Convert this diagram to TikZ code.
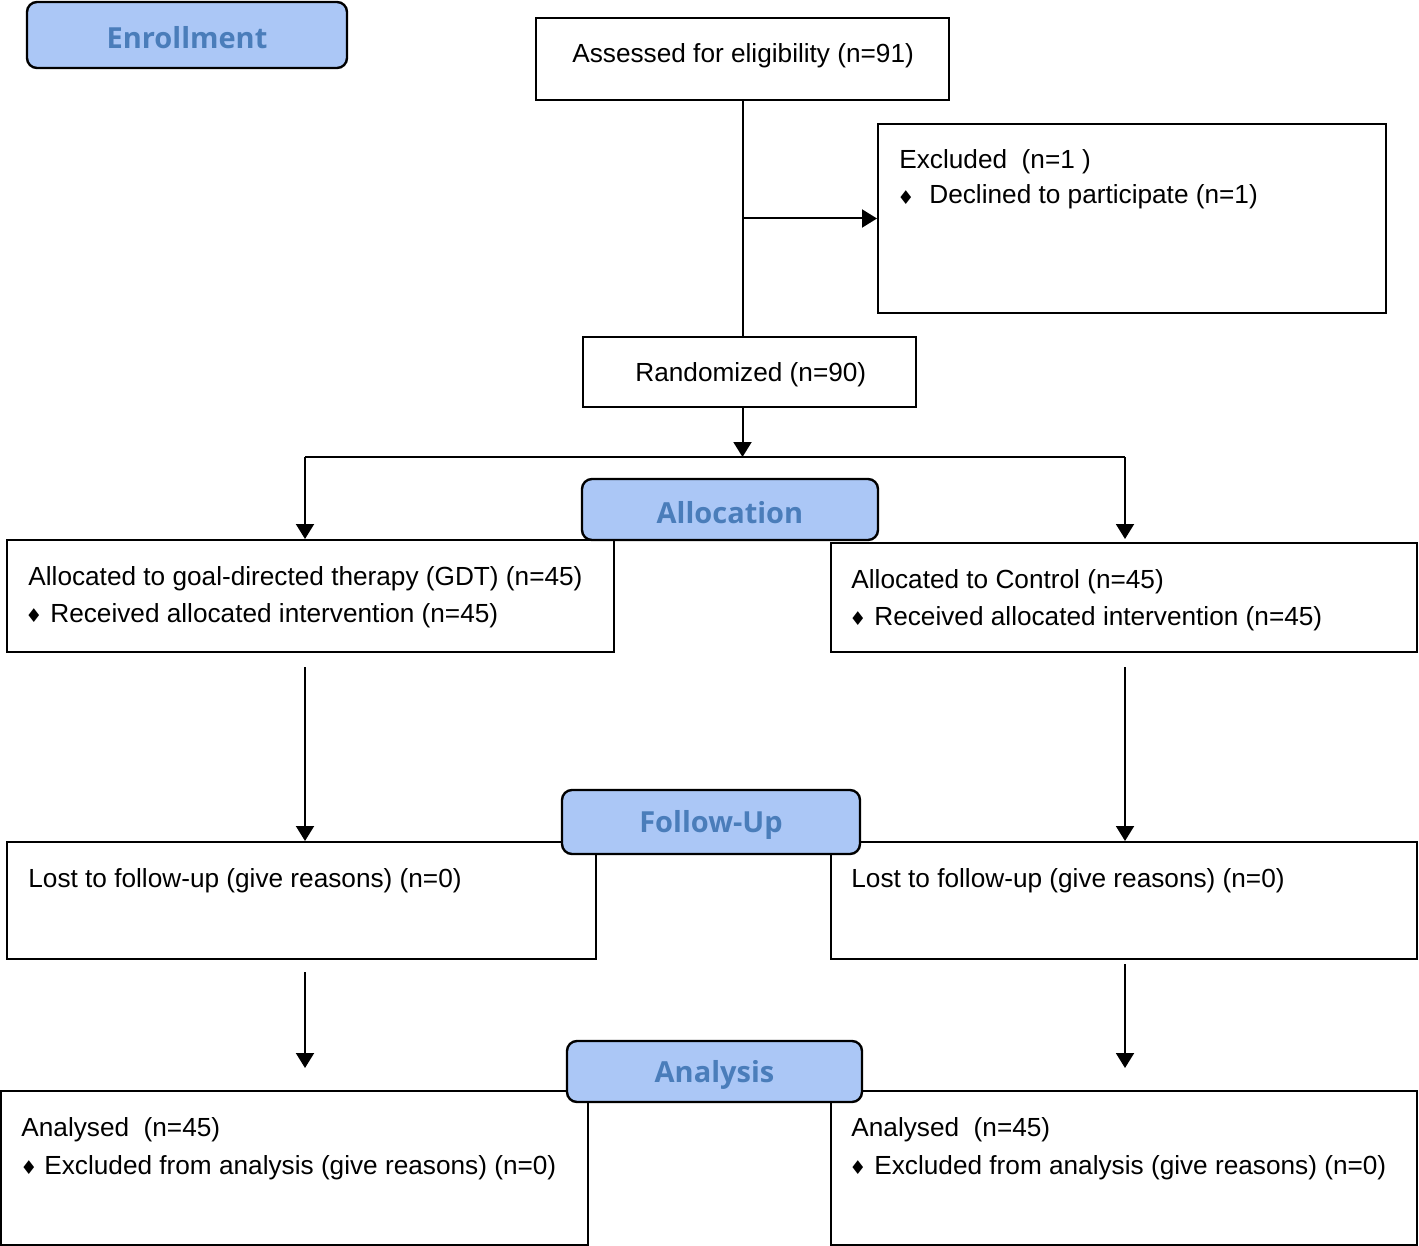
\documentclass[tikz,border=0pt]{standalone}
\usepackage{fontspec}
\setmainfont{Liberation Sans}
\newfontfamily\stagefont{Open Sans}
\newfontfamily\symfont{DejaVu Sans}
\usetikzlibrary{fit,arrows.meta}
\definecolor{stagefill}{HTML}{ABC7F6}
\definecolor{stagetext}{HTML}{4A7DBA}
\tikzset{
  box/.style={draw, line width=1pt, inner sep=0pt},
  stage/.style={draw, line width=1.2pt, rounded corners=5pt, fill=stagefill, inner sep=0pt},
  stagelab/.style={inner sep=0pt, yshift=-1.5pt, text=stagetext, font=\stagefont\bfseries\fontsize{14.5}{16}\selectfont},
  txt/.style={anchor=base west, inner sep=0pt, font=\fontsize{13.1}{15}\selectfont},
  bul/.style={anchor=center, inner sep=0pt, font=\symfont\fontsize{9.5}{10}\selectfont},
  ln/.style={line width=1pt},
  arr/.style={line width=1pt, -{Triangle[length=7.5pt,width=9pt]}}
}
\begin{document}
\begin{tikzpicture}[x=0.5pt,y=-0.5pt]
\useasboundingbox (0,0) rectangle (1419,1246);
% boxes
\node[box, fit={(536,18) (949,100)}] (assess) {};
\node[box, fit={(878,124) (1386,313)}] (excl) {};
\node[box, fit={(583,337) (916,407)}] (rand) {};
\node[box, fit={(7,540) (614,652)}] (allocL) {};
\node[box, fit={(831,543) (1417,652)}] (allocR) {};
\node[box, fit={(7,842) (596,959)}] (lostL) {};
\node[box, fit={(831,842) (1417,959)}] (lostR) {};
\node[box, fit={(1,1091) (588,1245)}] (anaL) {};
\node[box, fit={(831,1091) (1417,1245)}] (anaR) {};
% texts
\node[txt] (tAssess) at (572,63) {Assessed for eligibility (n=91)};
\node[txt] (tExcl) at (899,169) {Excluded\ \ (n=1 )};
\node[bul] (bExcl) at (906,198) {♦};
\node[txt] (tDecl) at (929,204) {Declined to participate (n=1)};
\node[txt] (tRand) at (635,381) {Randomized (n=90)};
\node[txt] (tAllocL) at (28,585) {Allocated to goal-directed therapy (GDT) (n=45)};
\node[bul] (bAllocL) at (34,616) {♦};
\node[txt] (tRecL) at (50,622) {Received allocated intervention (n=45)};
\node[txt] (tAllocR) at (851,588) {Allocated to Control (n=45)};
\node[bul] (bAllocR) at (858,619) {♦};
\node[txt] (tRecR) at (874,625) {Received allocated intervention (n=45)};
\node[txt] (tLostL) at (28,887) {Lost to follow-up (give reasons) (n=0)};
\node[txt] (tLostR) at (851,887) {Lost to follow-up (give reasons) (n=0)};
\node[txt] (tAnaL) at (21,1136) {Analysed\ \ (n=45)};
\node[bul] (bAnaL) at (29,1168) {♦};
\node[txt] (tExL) at (44,1174) {Excluded from analysis (give reasons) (n=0)};
\node[txt] (tAnaR) at (851,1136) {Analysed\ \ (n=45)};
\node[bul] (bAnaR) at (858,1168) {♦};
\node[txt] (tExR) at (874,1174) {Excluded from analysis (give reasons) (n=0)};
% coordinates
\coordinate (split) at (742.5,457);
\coordinate (colL) at (305,457);
\coordinate (colR) at (1125,457);
\coordinate (aL1) at (305,667);
\coordinate (aR1) at (1125,667);
\coordinate (aL2) at (305,972);
\coordinate (aL2e) at (305,1068);
\coordinate (aR2) at (1125,964);
\coordinate (aR2e) at (1125,1068);
% connectors
\draw[ln] (assess.south) -- (assess.south |- rand.north);
\draw[arr] (assess.south |- excl.west) -- (excl.west);
\draw[arr] (assess.south |- rand.south) -- (split);
\draw[ln] (colL) -- (colR);
\draw[arr] (colL) -- (colL |- allocL.north);
\draw[arr] (colR) -- (colR |- allocL.north);
\draw[arr] (aL1) -- (aL1 |- lostL.north);
\draw[arr] (aR1) -- (aR1 |- lostR.north);
\draw[arr] (aL2) -- (aL2e);
\draw[arr] (aR2) -- (aR2e);
% stage labels
\node[stage, fit={(27,2) (347,68)}] (sEnr) {};
\node[stagelab] (lEnr) at (sEnr.center) {Enrollment};
\node[stage, fit={(582,479) (878,540)}] (sAlloc) {};
\node[stagelab] (lAlloc) at (sAlloc.center) {Allocation};
\node[stage, fit={(562,790) (860,854)}] (sFol) {};
\node[stagelab] (lFol) at (sFol.center) {Follow-Up};
\node[stage, fit={(567,1041) (862,1102)}] (sAna) {};
\node[stagelab] (lAna) at (sAna.center) {Analysis};
\end{tikzpicture}
\end{document}
